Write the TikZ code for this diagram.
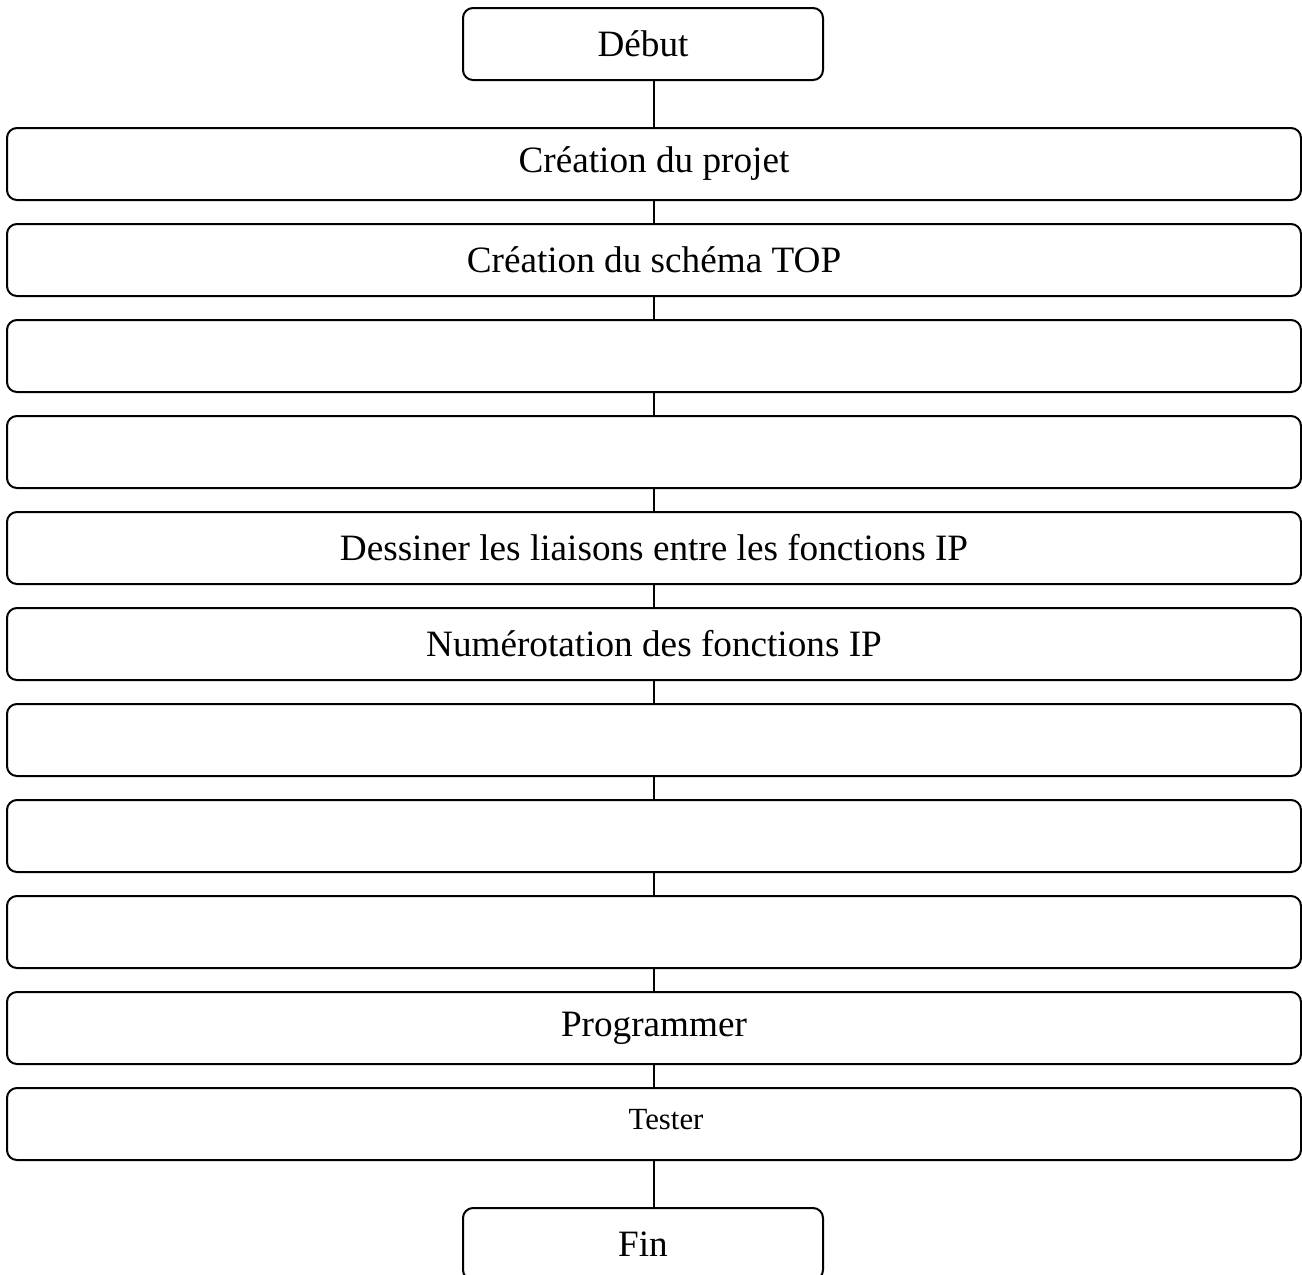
\documentclass[tikz,border=0pt]{standalone}
\usepackage{fontspec}
\setmainfont{Liberation Serif}
\begin{document}
\begin{tikzpicture}[x=0.5pt,y=-0.5pt,
  box/.style={draw=black, line width=1pt, rounded corners=5pt, minimum width=647pt, minimum height=36pt, inner sep=0pt, font=\fontsize{18.6}{22}\selectfont},
  endbox/.style={draw=black, line width=1pt, rounded corners=5pt, minimum width=180pt, minimum height=36pt, inner sep=0pt, font=\fontsize{18.6}{22}\selectfont},
  conn/.style={draw=black, line width=1pt}]
\useasboundingbox (0,0) rectangle (1302,1275);
\clip (0,0) rectangle (1302,1275);
\node[endbox] (debut) at (643,44) {Début};
\node[box] (b1) at (654,164) {Création du projet};
\node[box] (b2) at (654,260) {Création du schéma TOP};
\node[box] (b3) at (654,356) {};
\node[box] (b4) at (654,452) {};
\node[box] (b5) at (654,548) {Dessiner les liaisons entre les fonctions IP};
\node[box] (b6) at (654,644) {Numérotation des fonctions IP};
\node[box] (b7) at (654,740) {};
\node[box] (b8) at (654,836) {};
\node[box] (b9) at (654,932) {};
\node[box] (b10) at (654,1028) {Programmer};
\node[box] (b11) at (654,1124) {};
\node[font=\fontsize{15.4}{18}\selectfont] (tester) at (666,1120) {Tester};
\node[endbox] (fin) at (643,1244) {Fin};
\draw[conn] (debut.south -| b1.north) -- (b1.north);
\draw[conn] (b1) -- (b2);
\draw[conn] (b2) -- (b3);
\draw[conn] (b3) -- (b4);
\draw[conn] (b4) -- (b5);
\draw[conn] (b5) -- (b6);
\draw[conn] (b6) -- (b7);
\draw[conn] (b7) -- (b8);
\draw[conn] (b8) -- (b9);
\draw[conn] (b9) -- (b10);
\draw[conn] (b10) -- (b11);
\draw[conn] (b11.south) -- (b11.south |- fin.north);
\end{tikzpicture}
\end{document}
